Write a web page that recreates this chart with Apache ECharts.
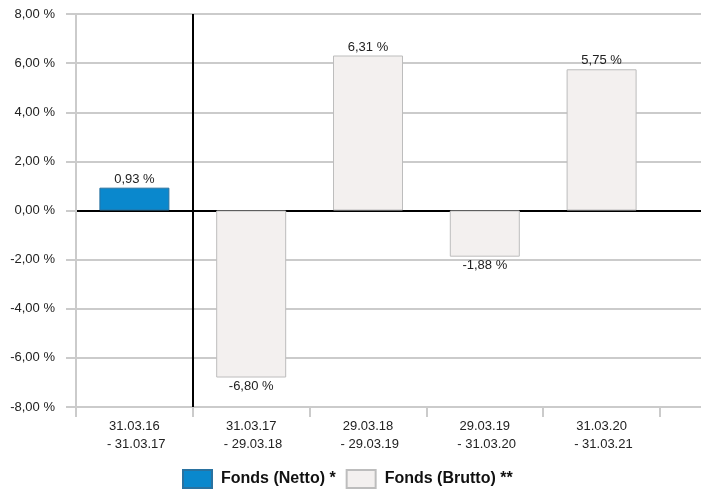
<!DOCTYPE html>
<html>
<head>
<meta charset="utf-8">
<script src="https://cdn.jsdelivr.net/npm/echarts@6/dist/echarts.min.js"></script>
<style>
  html, body { margin: 0; padding: 0; background: #fff; }
  #chart { width: 704px; height: 490px; }
</style>
</head>
<body>
<div id="chart"></div>
<script>
// Zeiträume (x-Achse)
var periods = ['31.03.16\n - 31.03.17', '31.03.17\n - 29.03.18', '29.03.18\n - 29.03.19', '29.03.19\n - 31.03.20', '31.03.20\n - 31.03.21']
// Werte in %
var netto = [0.93, '-', '-', '-', '-']
var brutto = ['-', -6.80, 6.31, -1.88, 5.75]
var yTicks = [-8, -6, -4, -2, 0, 2, 4, 6, 8]

var fontFamily = '"Liberation Sans", Arial, sans-serif'
var gridGray = '#cbcbcb'

function fmt(v) {
  return v.toFixed(2).replace('.', ',') + ' %'
}

function withLabels(arr) {
  return arr.map(function (v) {
    if (v === '-') return v
    return { value: v, label: { position: v < 0 ? 'bottom' : 'top' } }
  })
}

// Nulllinie schwarz, Rest grau
var splitColors = yTicks.map(function (t) { return t === 0 ? '#000' : gridGray })

var chart = echarts.init(document.getElementById('chart'))
chart.setOption({
  animation: false,
  textStyle: { fontFamily: fontFamily },
  grid: [
    { left: 76, right: 44, top: 14, bottom: 83 },
    { left: 660, right: 3, top: 14, bottom: 83 }
  ],
  legend: {
    bottom: 1,
    left: 182,
    padding: 0,
    icon: 'rect',
    itemWidth: 29,
    itemHeight: 18,
    itemGap: 10,
    textStyle: { fontSize: 16, fontWeight: 'bold', color: '#111', fontFamily: fontFamily, padding: [0, 0, 0, 4] },
    data: ['Fonds (Netto) *', 'Fonds (Brutto) **']
  },
  xAxis: [
    {
      type: 'category',
      gridIndex: 0,
      data: periods,
      axisLine: { show: false, onZero: false },
      axisTick: { show: true, length: 10, lineStyle: { color: gridGray, width: 2 } },
      axisLabel: { color: '#222', fontSize: 13, lineHeight: 18, margin: 10 },
      splitLine: {
        show: true,
        lineStyle: { color: ['transparent', '#000', 'transparent', 'transparent', 'transparent', 'transparent'], width: 2 }
      }
    },
    {
      type: 'category',
      gridIndex: 1,
      data: [''],
      axisLine: { show: false, onZero: false },
      axisTick: { show: false },
      axisLabel: { show: false }
    }
  ],
  yAxis: [
    {
      type: 'value',
      gridIndex: 0,
      min: -8,
      max: 8,
      interval: 2,
      axisLine: { show: true, lineStyle: { color: gridGray, width: 2 } },
      axisTick: { show: true, length: 10, lineStyle: { color: gridGray, width: 2 } },
      axisLabel: { color: '#222', fontSize: 13, margin: 21, formatter: fmt },
      splitLine: { lineStyle: { color: splitColors, width: 2 } }
    },
    {
      type: 'value',
      gridIndex: 1,
      min: -8,
      max: 8,
      interval: 2,
      axisLine: { show: false },
      axisTick: { show: false },
      axisLabel: { show: false },
      splitLine: { lineStyle: { color: splitColors, width: 2 } }
    }
  ],
  series: [
    {
      name: 'Fonds (Netto) *',
      type: 'bar',
      barWidth: 70,
      barGap: '-100%',
      data: withLabels(netto),
      itemStyle: { color: '#0a88cd', borderColor: '#2a72a0', borderWidth: 1 },
      label: {
        show: true,
        distance: 2,
        color: '#222',
        fontSize: 13,
        formatter: function (p) { return fmt(p.value) }
      }
    },
    {
      name: 'Fonds (Brutto) **',
      type: 'bar',
      barWidth: 70,
      barGap: '-100%',
      data: withLabels(brutto),
      itemStyle: { color: '#f3f0ef', borderColor: '#bdbdbd', borderWidth: 1 },
      label: {
        show: true,
        distance: 2,
        color: '#222',
        fontSize: 13,
        formatter: function (p) { return fmt(p.value) }
      }
    }
  ]
})
</script>
</body>
</html>
